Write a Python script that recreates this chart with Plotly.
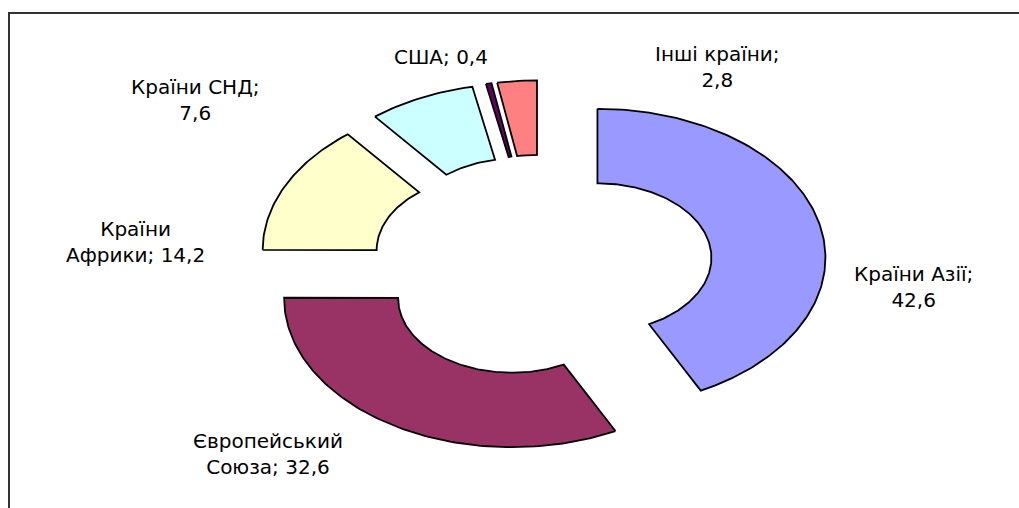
import numpy as np
import plotly.graph_objects as go

# ---- data ----
categories = ["Країни Азії", "Європейський<br>Союза", "Країни<br>Африки",
              "Країни СНД", "США", "Інші країни"]
values = [42.6, 32.6, 14.2, 7.6, 0.4, 2.8]
value_text = ["42,6", "32,6", "14,2", "7,6", "0,4", "2,8"]
break_after_name = [True, False, False, True, False, True]
colors = ["#9999FF", "#993366", "#FFFFCC", "#CCFFFF", "#660066", "#FF8080"]

# ---- layout geometry (pixels of the 1019x508 canvas) ----
W, H = 1019, 508
CX, CY = 542, 266.5        # donut centre
UX, UY = 228, 149          # pixels per unit radius (horizontal / vertical)
HOLE = 0.5
PULL = 0.25
label_px = [(913, 287), (268, 454), (135, 242), (195, 100), (441, 57), (717, 67)]

fig = go.Figure()

total = float(sum(values))
start = 0.0
for name, v, col in zip(categories, values, colors):
    a0 = start / total * 2 * np.pi
    a1 = (start + v) / total * 2 * np.pi
    start += v
    am = (a0 + a1) / 2
    ox, oy = PULL * np.sin(am), PULL * np.cos(am)
    n = max(int(np.degrees(a1 - a0) / 1.0), 2)
    t = np.linspace(a0, a1, n)
    xs = np.concatenate([np.sin(t), HOLE * np.sin(t[::-1])]) + ox
    ys = np.concatenate([np.cos(t), HOLE * np.cos(t[::-1])]) + oy
    xs = np.append(xs, xs[0])
    ys = np.append(ys, ys[0])
    fig.add_trace(go.Scatter(
        x=xs, y=ys, mode="lines", fill="toself", fillcolor=col,
        line=dict(color="black", width=1.8), hoverinfo="text",
        text=name.replace("<br>", " ") + "; " + str(v).replace(".", ","),
        showlegend=False,
    ))

annotations = []
for name, vt, brk, (px, py) in zip(categories, value_text, break_after_name, label_px):
    txt = name + (";<br>" if brk else "; ") + vt
    annotations.append(dict(
        x=px / W, y=1 - py / H, xref="paper", yref="paper",
        text=txt, showarrow=False, xanchor="center", yanchor="middle",
        align="center", font=dict(family="DejaVu Sans", size=20, color="black"),
    ))

fig.update_layout(
    width=W, height=H,
    margin=dict(l=0, r=0, t=0, b=0),
    paper_bgcolor="white", plot_bgcolor="white",
    xaxis=dict(range=[-CX / UX, (W - CX) / UX], visible=False, domain=[0, 1],
               autorange=False, fixedrange=True),
    yaxis=dict(range=[-(H - CY) / UY, CY / UY], visible=False, domain=[0, 1],
               autorange=False, fixedrange=True),
    annotations=annotations,
    shapes=[dict(type="path", xref="paper", yref="paper",
                 path=f"M {9/W},0 L {9/W},{1-13/H} L 1,{1-13/H}",
                 line=dict(color="#333333", width=2))],
)

fig.write_html(
    "out.html",
    config={"displayModeBar": False},
    post_script="document.body.style.margin='0';document.body.style.padding='0';"
                "document.body.style.overflow='hidden';",
)
